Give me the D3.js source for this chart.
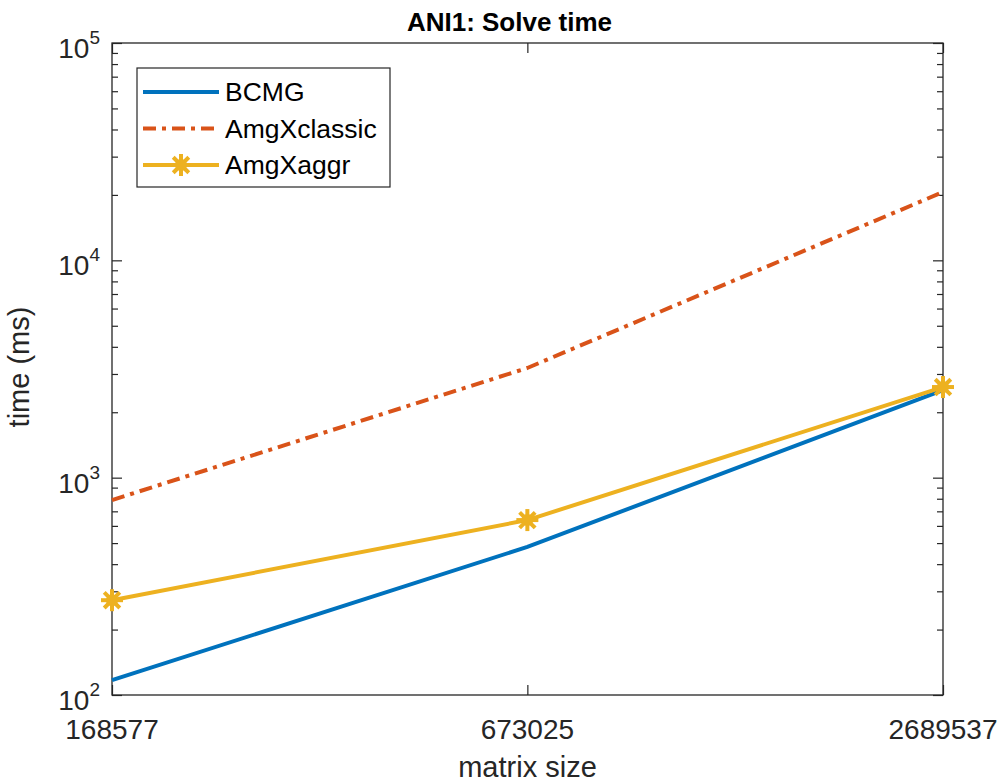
<!DOCTYPE html>
<meta charset="utf-8" />
<script src="https://d3js.org/d3.v7.min.js"></script>
<style>
  body { margin: 0; background: #fff; }
  text { font-family: "Liberation Sans", Arial, Helvetica, sans-serif; fill: #262626; }
</style>
<div id="my_dataviz"></div>
<script>
  // data
  const sizes = [168577, 673025, 2689537];
  const bcmg = [117, 480, 2530];
  const amgxClassic = [789, 3197, 20620];
  const amgxAggr = [273, 638, 2612];
  const seriesNames = ["BCMG", "AmgXclassic", "AmgXaggr"];
  const yMajor = [100, 1000, 10000, 100000];
  const yExp = ["2", "3", "4", "5"];

  const W = 1004, H = 782;
  const margin = { top: 43, right: 61, bottom: 87, left: 112 },
    width = W - margin.left - margin.right,
    height = H - margin.top - margin.bottom;

  const svg0 = d3.select("#my_dataviz").append("svg")
    .attr("width", W).attr("height", H);
  svg0.append("rect").attr("width", W).attr("height", H).attr("fill", "#fff");

  const svg = svg0.append("g")
    .attr("transform", `translate(${margin.left},${margin.top})`);

  const x = d3.scaleLog().domain([sizes[0], sizes[2]]).range([0, width]);
  const y = d3.scaleLog().domain([100, 100000]).range([height, 0]);

  // minor log ticks
  var yMinor = [];
  for (let e = 2; e < 5; e++) {
    for (let k = 2; k <= 9; k++) yMinor.push(k * Math.pow(10, e));
  }

  const axisColor = "#262626";
  function styleAxis(g) {
    g.select(".domain").remove();
    g.selectAll(".tick line").attr("stroke", axisColor).attr("stroke-width", 1.2);
    g.selectAll("text").remove();
  }

  // left / right ticks (inward)
  svg.append("g").call(d3.axisLeft(y).tickValues(yMajor).tickSize(-10)).call(styleAxis);
  svg.append("g").call(d3.axisLeft(y).tickValues(yMinor).tickSize(-6)).call(styleAxis);
  svg.append("g").attr("transform", `translate(${width},0)`)
    .call(d3.axisRight(y).tickValues(yMajor).tickSize(-10)).call(styleAxis);
  svg.append("g").attr("transform", `translate(${width},0)`)
    .call(d3.axisRight(y).tickValues(yMinor).tickSize(-6)).call(styleAxis);

  // bottom / top ticks
  svg.append("g").attr("transform", `translate(0,${height})`)
    .call(d3.axisBottom(x).tickValues(sizes).tickSize(-10)).call(styleAxis);
  svg.append("g")
    .call(d3.axisTop(x).tickValues(sizes).tickSize(-10)).call(styleAxis);

  // box
  svg.append("rect")
    .attr("width", width).attr("height", height)
    .attr("fill", "none").attr("stroke", axisColor).attr("stroke-width", 1.3);

  // y tick labels 10^n
  yMajor.forEach(function (v, i) {
    const t = svg.append("text")
      .attr("x", -12)
      .attr("y", y(v) + 15)
      .attr("text-anchor", "end")
      .style("font-size", "28px");
    t.append("tspan").text("10");
    t.append("tspan").attr("dy", -14).style("font-size", "19px").text(yExp[i]);
  });

  // x tick labels
  sizes.forEach(function (v) {
    svg.append("text")
      .attr("x", x(v))
      .attr("y", height + 44)
      .attr("text-anchor", "middle")
      .style("font-size", "28px")
      .text(v);
  });

  // axis labels and title
  svg.append("text")
    .attr("x", width / 2)
    .attr("y", height + 82)
    .attr("text-anchor", "middle")
    .style("font-size", "29px")
    .text("matrix size");

  svg.append("text")
    .attr("transform", `translate(${-83},${height / 2 - 2}) rotate(-90)`)
    .attr("text-anchor", "middle")
    .style("font-size", "29px")
    .text("time (ms)");

  svg.append("text")
    .attr("x", width / 2 - 18)
    .attr("y", -12)
    .attr("text-anchor", "middle")
    .style("font-size", "26px")
    .style("font-weight", "bold")
    .style("fill", "#000")
    .text("ANI1: Solve time");

  const colors = ["#0072BD", "#D95319", "#EDB120"];
  const dashes = [null, "13,6,4,6", null];
  const allSeries = [bcmg, amgxClassic, amgxAggr];

  const line = d3.line()
    .x((d, i) => x(sizes[i]))
    .y((d) => y(d));

  allSeries.forEach(function (s, k) {
    svg.append("path")
      .datum(s)
      .attr("fill", "none")
      .attr("stroke", colors[k])
      .attr("stroke-width", 4)
      .attr("stroke-dasharray", dashes[k])
      .attr("d", line);
  });

  // asterisk marker
  function star(g, cx, cy, r, color) {
    for (let a = 0; a < 4; a++) {
      const ang = (a * Math.PI) / 4;
      g.append("line")
        .attr("x1", cx - r * Math.cos(ang)).attr("y1", cy - r * Math.sin(ang))
        .attr("x2", cx + r * Math.cos(ang)).attr("y2", cy + r * Math.sin(ang))
        .attr("stroke", color).attr("stroke-width", 4);
    }
    g.append("circle").attr("cx", cx).attr("cy", cy).attr("r", 6).attr("fill", color);
  }

  amgxAggr.forEach(function (d, i) {
    star(svg, x(sizes[i]), y(d), 11, colors[2]);
  });

  // legend
  const lg = svg0.append("g").attr("transform", "translate(137,68)");
  lg.append("rect")
    .attr("width", 253).attr("height", 119)
    .attr("fill", "#fff").attr("stroke", axisColor).attr("stroke-width", 1.2);
  seriesNames.forEach(function (name, k) {
    const yy = 24 + k * 36.5;
    lg.append("line")
      .attr("x1", 6).attr("x2", 82).attr("y1", yy).attr("y2", yy)
      .attr("stroke", colors[k]).attr("stroke-width", 4)
      .attr("stroke-dasharray", dashes[k]);
    if (k === 2) star(lg, 44, yy, 11, colors[2]);
    lg.append("text")
      .attr("x", 88).attr("y", yy + 9)
      .style("font-size", "26.5px")
      .style("fill", "#000")
      .text(name);
  });
</script>
